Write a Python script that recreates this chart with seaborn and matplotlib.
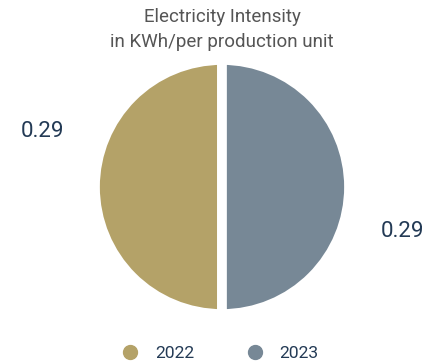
import matplotlib
matplotlib.use("Agg")
import matplotlib.pyplot as plt
from matplotlib.lines import Line2D
import seaborn as sns

# Electricity intensity per year (KWh per production unit)
years = ["2022", "2023"]
intensity = [0.29, 0.29]
colors = ["#b4a268", "#778896"]
title_lines = ["Electricity Intensity", "in KWh/per production unit"]

sns.set_theme(style="white")
plt.rcParams["font.family"] = ["Roboto", "DejaVu Sans"]

W, H = 423, 364
fig = plt.figure(figsize=(W / 100, H / 100), dpi=100)

# Pie centred at (222, 187) px; white wedge edges form the split between halves
cx, cy, r = 222, 187, 127
ax = fig.add_axes([(cx - r) / W, (H - cy - r) / H, 2 * r / W, 2 * r / H])
ax.pie(intensity, colors=colors, startangle=90, counterclock=True,
       wedgeprops=dict(edgecolor="white", linewidth=7))
ax.set_xlim(-1, 1)
ax.set_ylim(-1, 1)
ax.set_aspect("equal")
ax.axis("off")

# Value labels beside each half
label_color = "#233a55"
fig.text(42 / W, 1 - 131 / H, f"{intensity[0]:.2f}", ha="center", va="center",
         fontsize=16, color=label_color)
fig.text(402 / W, 1 - 232 / H, f"{intensity[1]:.2f}", ha="center", va="center",
         fontsize=16, color=label_color)

# Two-line title
for i, line in enumerate(title_lines):
    fig.text(222 / W, 1 - (17 + 25 * i) / H, line, ha="center", va="center",
             fontsize=13.5, color="#555555")

# Legend with round markers
handles = [Line2D([0], [0], marker="o", linestyle="none", markersize=10,
                  markerfacecolor=c, markeredgecolor=c) for c in colors]
leg = fig.legend(handles, years, loc="center", bbox_to_anchor=(220 / W, 1 - 353 / H),
                 ncol=2, frameon=False, fontsize=12.6, handletextpad=0.9,
                 columnspacing=2.97, handlelength=1.0)
for t in leg.get_texts():
    t.set_color(label_color)

fig.savefig("out.png", dpi=100)
